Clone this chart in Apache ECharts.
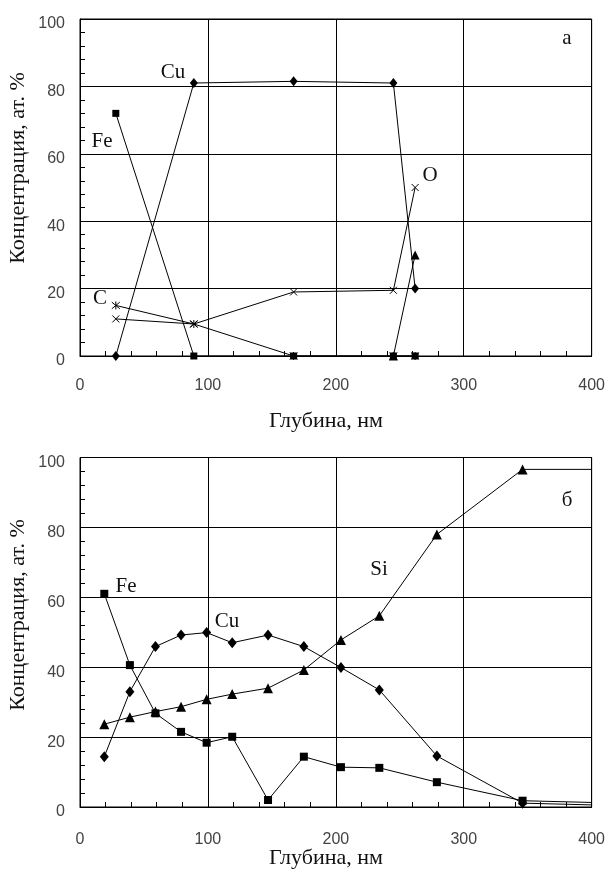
<!DOCTYPE html>
<html>
<head>
<meta charset="utf-8">
<script src="https://cdn.jsdelivr.net/npm/echarts@6/dist/echarts.min.js"></script>
<style>
  html, body { margin: 0; padding: 0; background: #fff; }
  #chart { width: 608px; height: 879px; }
</style>
</head>
<body>
<div id="chart"></div>
<script>
// Рисунок (а)
const depthA = [28, 89, 167, 245, 262];
const feA = [72, 0, 0, 0, 0];
const cuA = [0, 81, 81.5, 81, 20];
const cA = [15, 9.5, 0, 0, 0];
const oA = [11, 9.5, 19, 19.5, 50];
const siA = [null, null, null, 0, 30];

// Рисунок (б)
const depthB = [19, 39, 59, 79, 99, 119, 147, 175, 204, 234, 279, 346, 400];
const feB = [61, 40.6, 26.8, 21.5, 18.4, 20.1, 2.0, 14.4, 11.4, 11.2, 7.1, 1.8, 1.3];
const cuB = [14.4, 33, 45.9, 49.2, 49.9, 47, 49.2, 45.9, 39.9, 33.5, 14.6, 1.1, 0.6];
const siB = [23.7, 25.7, 27.3, 28.7, 30.8, 32.3, 34, 39.2, 47.8, 54.7, 78, 96.6, 96.6];

const xTicks = [0, 100, 200, 300, 400];
const yTicks = [0, 20, 40, 60, 80, 100];

const xTitle = 'Глубина, нм';
const yTitle = 'Концентрация, ат. %';

function pairs(xs, ys) {
    return xs.map((x, i) => [x, ys[i]]);
}

const crossSym = 'path://M0,0L10,10M10,0L0,10';
const starSym = 'path://M0,0L10,10M10,0L0,10M5,-1L5,11';

function xAxis(idx, margin) {
    return {
        gridIndex: idx, type: 'value', min: xTicks[0], max: xTicks[xTicks.length - 1], interval: 100,
        axisLine: { show: true, lineStyle: { color: '#000', width: 1 } },
        axisTick: { show: true, inside: true, length: 5, lineStyle: { color: '#000' } },
        minorTick: { show: true, splitNumber: 5, length: 5, lineStyle: { color: '#000', width: 1 } },
        splitLine: { show: true, lineStyle: { color: '#000', width: 1 } },
        axisLabel: { color: '#444', fontFamily: 'Liberation Sans', fontSize: 16, margin: margin }
    };
}

function yAxis(idx) {
    return {
        gridIndex: idx, type: 'value', min: yTicks[0], max: yTicks[yTicks.length - 1], interval: 20,
        axisLine: { show: true, lineStyle: { color: '#000', width: 1 } },
        axisTick: { show: true, inside: true, length: 5, lineStyle: { color: '#000' } },
        minorTick: { show: true, splitNumber: 5, length: 5, lineStyle: { color: '#000', width: 1 } },
        splitLine: { show: true, lineStyle: { color: '#000', width: 1 } },
        axisLabel: {
            color: '#444', fontFamily: 'Liberation Sans', fontSize: 16, margin: 15,
            verticalAlign: 'top', lineHeight: 10
        }
    };
}

function line(idx, data, symbol, size, extra) {
    return Object.assign({
        type: 'line', xAxisIndex: idx, yAxisIndex: idx,
        data: data, symbol: symbol, symbolSize: size, showSymbol: true,
        lineStyle: { color: '#000', width: 1 },
        itemStyle: { color: '#000' },
        emphasis: { disabled: true },
        animation: false
    }, extra || {});
}

const strokeSym = { itemStyle: { color: '#000', borderColor: '#000', borderWidth: 1 } };

function txt(x, y, s, size, rot) {
    return {
        type: 'text', x: x, y: y, rotation: rot || 0,
        style: {
            text: s, fill: '#111', fontFamily: 'Liberation Serif', fontSize: size || 21,
            textAlign: 'center', textVerticalAlign: 'middle'
        }
    };
}

const chart = echarts.init(document.getElementById('chart'));
chart.setOption({
    backgroundColor: '#fff',
    grid: [
        { left: 80, top: 19, width: 513, height: 337, show: true, borderColor: '#000', borderWidth: 1 },
        { left: 80, top: 457.5, width: 513, height: 349.5, show: true, borderColor: '#000', borderWidth: 1 }
    ],
    xAxis: [xAxis(0, 22), xAxis(1, 25)],
    yAxis: [yAxis(0), yAxis(1)],
    series: [
        line(0, pairs(depthA, feA), 'rect', 7),
        line(0, pairs(depthA, cuA), 'diamond', [8, 10]),
        line(0, pairs(depthA, cA), starSym, 8, strokeSym),
        line(0, pairs(depthA, oA), crossSym, 7, strokeSym),
        line(0, pairs(depthA, siA), 'triangle', 9),
        line(1, pairs(depthB, feB), 'rect', 8),
        line(1, pairs(depthB, cuB), 'diamond', [9, 11]),
        line(1, pairs(depthB, siB), 'triangle', 10)
    ].map(s => {
        // на последней точке (б) маркер не рисуется
        if (s.xAxisIndex === 1) {
            s.data = s.data.map((p, j) => j === s.data.length - 1 ? { value: p, symbol: 'none' } : p);
        }
        return s;
    }),
    graphic: [
        txt(18, 168, yTitle, 22, Math.PI / 2),
        txt(326, 421, xTitle, 22),
        txt(18, 615, yTitle, 22, Math.PI / 2),
        txt(326, 858, xTitle, 22),
        txt(173, 72, 'Cu'),
        txt(102, 141, 'Fe'),
        txt(100, 298, 'C'),
        txt(430, 175, 'O'),
        txt(567, 38, 'а'),
        txt(126, 586, 'Fe'),
        txt(227, 621, 'Cu'),
        txt(379, 569, 'Si'),
        txt(567, 500, 'б')
    ]
});
</script>
</body>
</html>
